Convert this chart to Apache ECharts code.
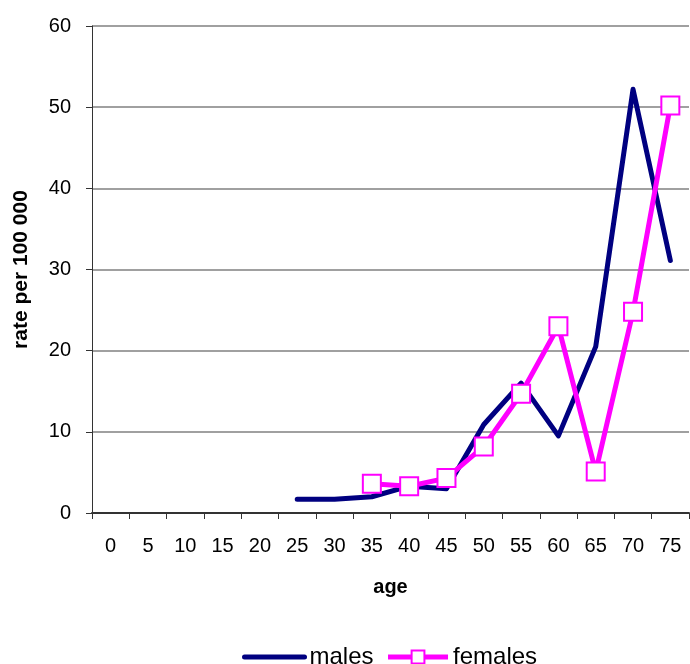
<!DOCTYPE html>
<html>
<head>
<meta charset="utf-8">
<script src="https://cdn.jsdelivr.net/npm/echarts@6/dist/echarts.min.js"></script>
<style>
  html, body { margin: 0; padding: 0; background: #fff; }
  #chart { width: 690px; height: 664px; }
</style>
</head>
<body>
<div id="chart"></div>
<script>
// Age groups on the x axis
const ages = ['0', '5', '10', '15', '20', '25', '30', '35', '40', '45', '50', '55', '60', '65', '70', '75'];
// Rate per 100 000 by age group (null = no value)
const males = [null, null, null, null, null, 1.7, 1.7, 2.0, 3.3, 3.0, 10.9, 16.0, 9.5, 20.5, 52.2, 31.1];
const females = [null, null, null, null, null, null, null, 3.6, 3.3, 4.3, 8.2, 14.7, 23.0, 5.1, 24.8, 50.2];
const yTicks = { min: 0, max: 60, interval: 10 };

const FONT = '"Liberation Sans", Arial, sans-serif';
const chart = echarts.init(document.getElementById('chart'));
chart.setOption({
  animation: false,
  backgroundColor: '#ffffff',
  grid: { left: 92, right: 1, top: 26, bottom: 151, containLabel: false },
  xAxis: {
    type: 'category',
    data: ages,
    boundaryGap: true,
    name: 'age',
    nameLocation: 'middle',
    nameGap: 64,
    nameTextStyle: { fontFamily: FONT, fontSize: 20, fontWeight: 'bold', color: '#000' },
    axisLine: { lineStyle: { color: '#333', width: 2 } },
    axisTick: { show: true, alignWithLabel: false, length: 6, lineStyle: { color: '#333' } },
    axisLabel: { fontFamily: FONT, fontSize: 20, color: '#000', margin: 23, interval: 0 },
    splitLine: { show: false }
  },
  yAxis: {
    type: 'value',
    min: yTicks.min,
    max: yTicks.max,
    interval: yTicks.interval,
    name: 'rate per 100 000',
    nameLocation: 'middle',
    nameRotate: 90,
    nameGap: 60,
    nameTextStyle: { fontFamily: FONT, fontSize: 21, fontWeight: 'bold', color: '#000' },
    axisLine: { show: true, lineStyle: { color: '#333', width: 1 } },
    axisTick: { show: true, length: 6, lineStyle: { color: '#333' } },
    axisLabel: { fontFamily: FONT, fontSize: 20, color: '#000', margin: 21 },
    splitLine: { show: true, lineStyle: { color: '#808080', width: 1.5 } }
  },
  legend: {
    top: 640,
    left: 237,
    itemWidth: 60,
    itemHeight: 16,
    itemGap: 12,
    lineStyle: { width: 5 },
    textStyle: { fontFamily: FONT, fontSize: 24, color: '#000' },
    data: [
      { name: 'males', itemStyle: { opacity: 0 } },
      { name: 'females' }
    ]
  },
  series: [
    {
      name: 'males',
      type: 'line',
      data: males,
      symbol: 'none',
      connectNulls: false,
      lineStyle: { color: '#000080', width: 5, join: 'round', cap: 'round' },
      itemStyle: { color: '#000080' },
      z: 2
    },
    {
      name: 'females',
      type: 'line',
      data: females,
      symbol: 'rect',
      symbolSize: 18,
      showAllSymbol: true,
      lineStyle: { color: '#ff00ff', width: 5, join: 'round' },
      itemStyle: { color: '#ffffff', borderColor: '#ff00ff', borderWidth: 2 },
      z: 3
    }
  ]
});
</script>
</body>
</html>
